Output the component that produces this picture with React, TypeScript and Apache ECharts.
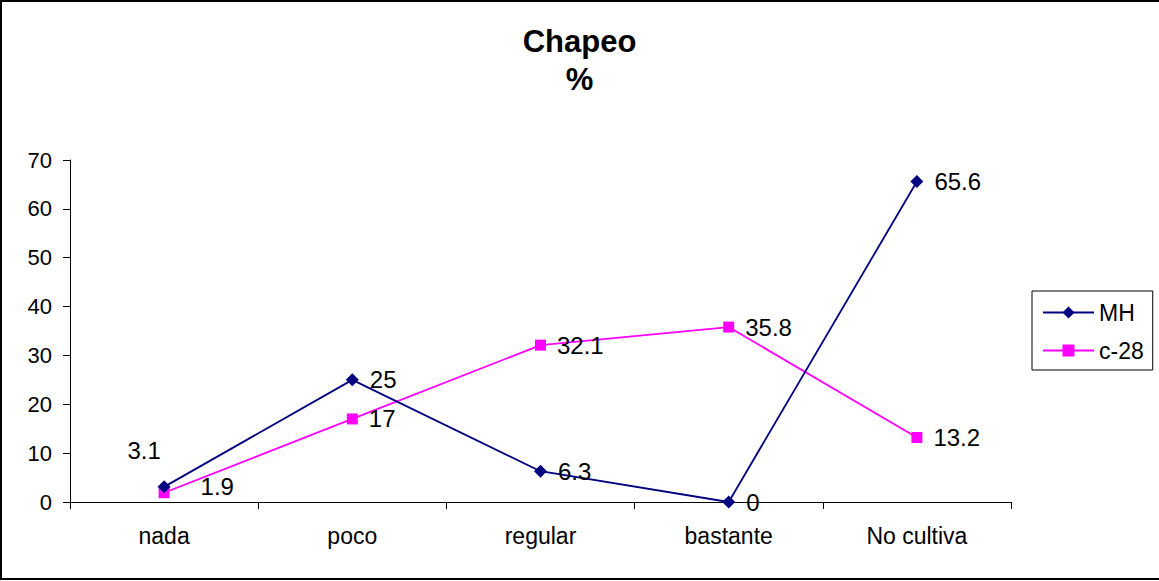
import React, { useEffect, useRef } from "react";
import * as echarts from "echarts";

const categories = ["nada", "poco", "regular", "bastante", "No cultiva"];
const mhValues = [3.1, 25, 6.3, 0, 65.6];
const c28Values = [1.9, 17, 32.1, 35.8, 13.2];
const seriesNames = ["MH", "c-28"];
const titleText = "Chapeo\n%";

const FONT = "'Liberation Sans', Arial, sans-serif";

export default function App() {
  const ref = useRef<HTMLDivElement>(null);
  useEffect(() => {
    if (!ref.current) return;
    const chart = echarts.init(ref.current, undefined, { renderer: "svg" });
    const labelBase = {
      show: true,
      position: "right",
      distance: 11,
      color: "#000",
      fontSize: 24,
      fontFamily: FONT,
    };
    const mhData = mhValues.map((v, i) =>
      i === 0 ? { value: v, label: { position: "top", offset: [-20, -7] } } : v
    );
    const c28Data = c28Values.map((v, i) =>
      i === 0 ? { value: v, label: { position: "right", offset: [20, -6] } } : v
    );
    chart.setOption({
      animation: false,
      backgroundColor: "#fff",
      textStyle: { fontFamily: FONT },
      title: {
        text: titleText,
        left: "center",
        top: 22,
        padding: 0,
        textStyle: {
          fontSize: 31,
          fontWeight: "bold",
          lineHeight: 38,
          color: "#000",
          fontFamily: FONT,
        },
      },
      graphic: [
        {
          type: "rect",
          shape: { x: 1, y: 1, width: 1170, height: 578 },
          style: { fill: "none", stroke: "#000", lineWidth: 2 },
          silent: true,
        },
      ],
      legend: {
        orient: "vertical",
        left: 1032,
        top: 291,
        padding: [10, 9, 8, 10],
        itemGap: 15,
        itemWidth: 51,
        itemHeight: 15,
        borderColor: "#000",
        borderWidth: 1,
        textStyle: { fontSize: 23, color: "#000", fontFamily: FONT },
        data: seriesNames,
      },
      grid: { left: 70, right: 148, top: 160, bottom: 79, containLabel: false },
      xAxis: {
        type: "category",
        data: categories,
        boundaryGap: true,
        axisLine: { show: true, lineStyle: { color: "#000", width: 1 } },
        axisTick: { show: true, length: 7, lineStyle: { color: "#000" } },
        axisLabel: { color: "#000", fontSize: 23, margin: 22, fontFamily: FONT },
        splitLine: { show: false },
      },
      yAxis: {
        type: "value",
        min: 0,
        max: 70,
        interval: 10,
        axisLine: { show: true, lineStyle: { color: "#000", width: 1 } },
        axisTick: { show: true, length: 7, lineStyle: { color: "#000" } },
        axisLabel: { color: "#000", fontSize: 22, margin: 18, fontFamily: FONT },
        splitLine: { show: false },
      },
      series: [
        {
          name: seriesNames[0],
          type: "line",
          data: mhData,
          symbol: "diamond",
          symbolSize: 13,
          color: "#000080",
          lineStyle: { color: "#000080", width: 1.8 },
          itemStyle: { color: "#000080" },
          label: labelBase,
          z: 3,
        },
        {
          name: seriesNames[1],
          type: "line",
          data: c28Data,
          symbol: "rect",
          symbolSize: 11,
          color: "#FF00FF",
          lineStyle: { color: "#FF00FF", width: 1.8 },
          itemStyle: { color: "#FF00FF" },
          label: labelBase,
          z: 2,
        },
      ],
    });
    return () => chart.dispose();
  }, []);
  return (
    <div
      ref={ref}
      style={{ position: "absolute", left: 0, top: 0, width: 1159, height: 581, background: "#fff" }}
    />
  );
}
